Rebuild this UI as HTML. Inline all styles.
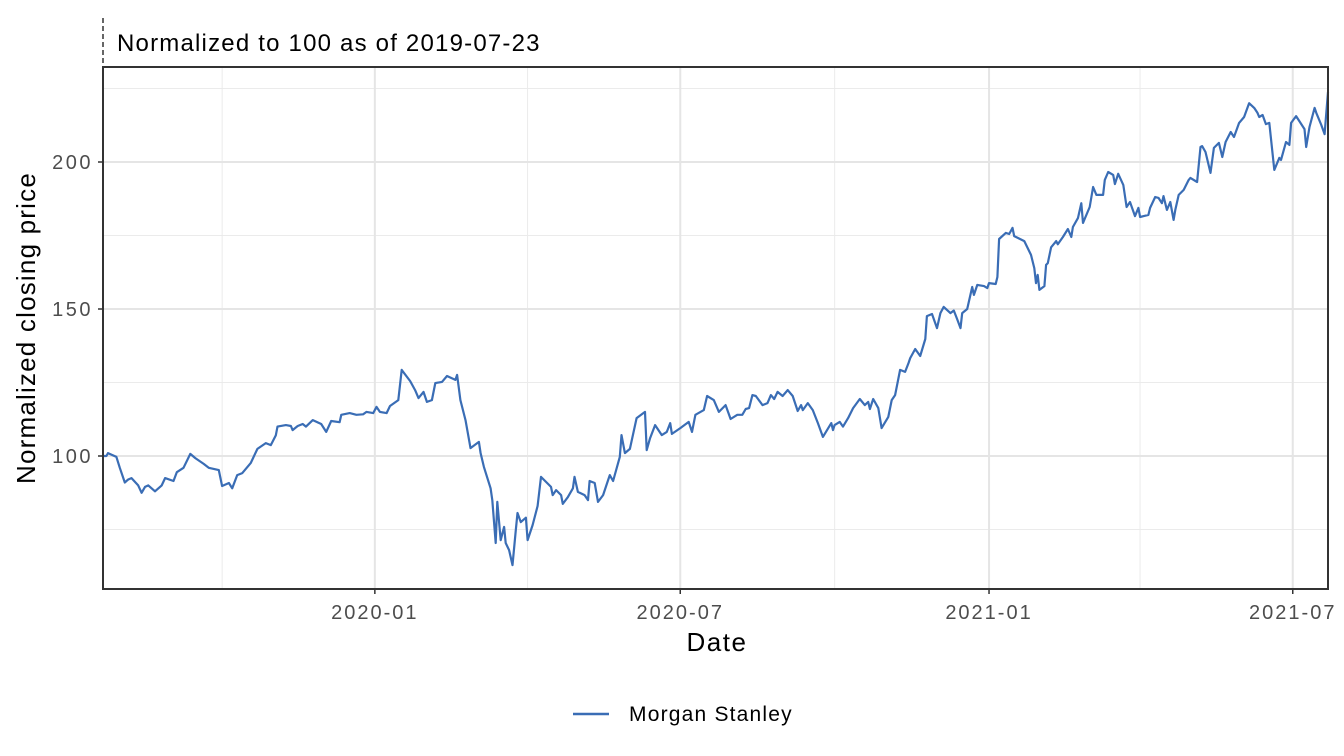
<!DOCTYPE html>
<html><head><meta charset="utf-8"><style>
html,body{margin:0;padding:0;background:#fff;}
svg{display:block;font-family:"Liberation Sans",sans-serif;}
</style></head><body>
<svg id="chart" width="1344" height="756" viewBox="0 0 1344 756">
<line x1="103" y1="18" x2="103" y2="66" stroke="#000" stroke-width="1.2" stroke-dasharray="5,3"/>
<text x="117" y="51" font-size="24" letter-spacing="1.2" fill="#000">Normalized to 100 as of 2019-07-23</text>
<g id="grid"></g>
<g id="series"></g>
<rect x="103" y="67" width="1225" height="522" fill="none" stroke="#333" stroke-width="2"/>
<g id="axes"></g>
<text x="717" y="651" font-size="26" letter-spacing="1.5" text-anchor="middle" fill="#000">Date</text>
<text transform="translate(35,328) rotate(-90)" font-size="26" letter-spacing="1.2" text-anchor="middle" fill="#000">Normalized closing price</text>
<g>
<line x1="573" y1="714" x2="609" y2="714" stroke="#3a6db5" stroke-width="2.5"/>
<text x="629" y="721" font-size="21" letter-spacing="1.2" fill="#000">Morgan Stanley</text>
</g>
</svg>
<script>
const days=[0,2,3,8,10,13,15,17,21,23,25,27,31,35,37,42,44,48,52,55,60,63,69,71,75,77,80,83,88,92,97,100,103,104,109,112,113,116,119,121,125,130,133,136,141,142,147,151,155,157,161,163,165,169,171,176,178,183,186,188,191,193,196,198,202,205,210,211,213,216,219,224,225,227,231,232,234,235,237,239,240,242,244,246,247,249,252,253,256,259,261,267,268,270,273,274,277,280,281,283,287,289,290,293,295,298,301,302,304,308,309,311,314,318,323,324,326,329,333,336,338,339,344,349,351,353,358,360,364,367,371,374,378,381,383,385,387,389,393,396,398,400,402,405,408,411,414,416,417,420,423,426,429,434,435,436,439,441,444,447,451,454,456,457,459,462,464,468,470,472,475,478,480,481,484,487,490,491,494,497,499,501,505,507,509,511,512,515,518,519,521,525,527,528,532,533,534,538,540,542,543,549,553,555,556,557,558,561,562,563,565,568,569,572,575,577,578,581,583,584,588,590,592,596,597,599,602,603,605,608,610,612,615,617,618,623,624,627,629,631,632,634,636,638,639,641,644,647,648,652,654,655,657,660,662,665,667,669,672,674,677,680,683,686,688,689,691,693,695,698,701,702,705,707,708,711,716,717,719,722,723,726,728,730];
const values=[100,100,101,99.7,96,91,92,92.5,90,87.5,89.5,90,88,90,92.5,91.5,94.5,96,100.7,99.3,97.3,96,95.2,89.8,90.8,89,93.5,94.2,97.6,102.4,104.4,103.7,107,110,110.5,110.2,108.8,110.2,110.9,110,112.2,110.9,108.2,111.9,111.5,114,114.6,114,114.2,115,114.6,116.7,115,114.6,117,119,129.3,125.5,122.4,119.7,121.8,118.4,119,124.8,125.2,127.2,125.9,127.6,119,112.2,102.7,104.8,101,96.3,89,85,70.4,84.4,71.4,75.9,70.4,68,62.9,74.8,80.6,77.5,79,71.4,76.5,83,92.9,89.5,86.7,88.4,86.7,83.7,86,89,92.9,87.8,86.7,85,91.5,90.8,84.4,86.7,91.8,93.5,91.5,99.7,107.1,101,102.4,112.9,115,102,106.1,110.5,107.1,108.2,111.2,107.5,109.5,111.6,108.2,114,115.6,120.4,119,115,117.3,112.6,114,114,116,116.3,120.7,120.4,117.3,118,120.7,119.4,121.8,120.4,122.4,120.4,115.3,117.3,115.6,118,115.6,111.2,106.5,111.2,108.8,110.5,111.6,110,112.9,116.3,119.4,117.3,118.4,116,119.4,116.3,109.5,113.3,119,120.7,129.3,128.6,131.6,133.3,136.4,134,139.8,147.6,148.3,143.5,148.6,150.7,148.6,149.5,146.6,143.5,148.6,150,157.5,154.8,158.2,157.8,157.1,158.8,158.5,160.9,173.8,175.9,175.5,177.6,174.8,173.1,168.4,163.9,158.8,161.6,156.5,157.8,165,165.6,171,173.1,172,174.5,177.2,174.5,177.9,181,186,179.3,184.7,191.5,188.8,188.8,193.9,196.6,195.6,192.5,196,192.2,184.7,186.4,181.6,184.4,181.3,182,184.4,188.1,187.8,186,188.4,183.7,186.4,180.3,183.7,188.8,190.5,193.9,194.6,193.2,205.1,205.4,203.4,196.3,204.8,206.5,201.7,206.8,210.2,208.5,213.3,215.3,220,218.4,216.7,215.3,216,212.9,213.3,197.3,201.4,200.7,206.8,205.8,213.3,215.6,211.2,205.1,211.9,218.4,216.7,212.6,209.5,223.8];
const xTickDays=[162,344,528,709];
const xTickLabels=["2020-01","2020-07","2021-01","2021-07"];
const xMinorDays=[71,253,436,618];
const yTicks=[100,150,200];
const yMinor=[75,125,175,225];

const NS="http://www.w3.org/2000/svg";
const X0=103,X1=1328,Y0=67,Y1=589,DMAX=730;
function xs(d){return X0+d*(X1-X0)/DMAX;}
function ys(v){return 456-(v-100)*2.94;}
function mk(tag,attrs,parent){const e=document.createElementNS(NS,tag);for(const k in attrs)e.setAttribute(k,attrs[k]);parent.appendChild(e);return e;}
const grid=document.getElementById('grid'),axes=document.getElementById('axes'),series=document.getElementById('series');
yMinor.forEach(v=>{const l=mk('line',{x1:X0,x2:X1,y1:ys(v),y2:ys(v),stroke:'#ebebeb','stroke-width':1},grid);

});
xMinorDays.forEach(d=>{const l=mk('line',{x1:xs(d),x2:xs(d),y1:Y0,y2:Y1,stroke:'#ebebeb','stroke-width':1},grid);

});
yTicks.forEach(v=>{const l=mk('line',{x1:X0,x2:X1,y1:ys(v),y2:ys(v),stroke:'#e5e5e5','stroke-width':2},grid);


const t=mk('line',{x1:X0-5,x2:X0,y1:ys(v),y2:ys(v),stroke:'#333','stroke-width':1.5},axes);


const tx=mk('text',{x:X0-10,y:ys(v)+7,'font-size':20,'letter-spacing':2.5,'text-anchor':'end',fill:'#4d4d4d'},axes);tx.textContent=v;

});
xTickDays.forEach((d,i)=>{const l=mk('line',{x1:xs(d),x2:xs(d),y1:Y0,y2:Y1,stroke:'#e5e5e5','stroke-width':2},grid);


const t=mk('line',{x1:xs(d),x2:xs(d),y1:Y1,y2:Y1+5,stroke:'#333','stroke-width':1.5},axes);


const tx=mk('text',{x:xs(d),y:Y1+30,'font-size':20,'letter-spacing':2,'text-anchor':'middle',fill:'#4d4d4d'},axes);tx.textContent=xTickLabels[i];

});
const n=Math.min(days.length,values.length);
const pts=days.slice(0,n).map((d,i)=>xs(d).toFixed(1)+','+ys(values[i]).toFixed(1)).join(' ');
const pl=mk('polyline',{points:pts,fill:'none',stroke:'#3a6db5','stroke-width':2.2,'stroke-linejoin':'round'},series);


</script>
</body></html>
